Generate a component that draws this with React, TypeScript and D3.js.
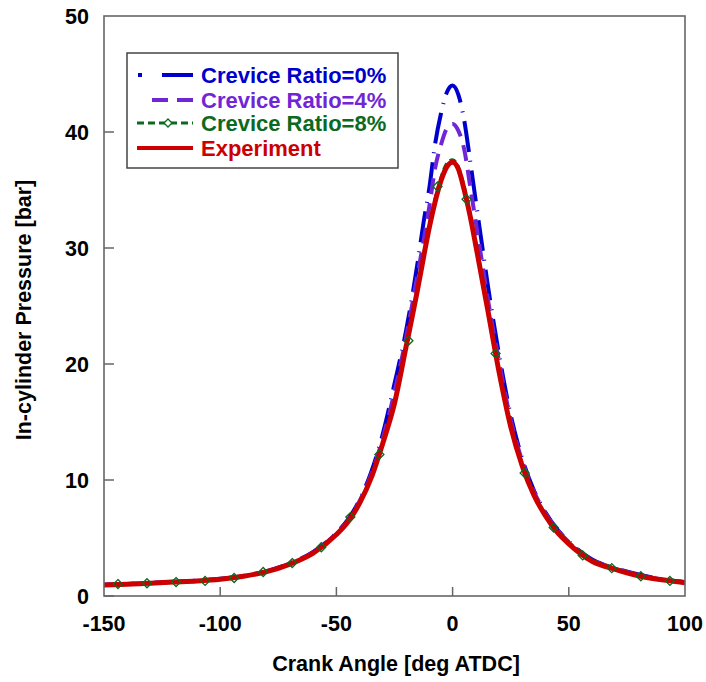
import React from "react";
import * as d3 from "d3";

const angles = [-150,-140,-130,-120,-110,-100,-90,-80,-70,-60,-50,-45,-40,-35,-30,-25,-20,-15,-12.5,-10,-7.5,-5,-2.5,0,2.5,5,7.5,10,12.5,15,20,25,30,35,40,45,50,60,70,80,90,100];

const crevice0 = [0.97,1.04,1.12,1.22,1.33,1.48,1.74,2.15,2.82,3.8,5.45,6.6,8.3,10.7,14.0,18.3,22.9,28.8,32.2,35.2,39.0,41.6,43.4,44.0,43.2,41.0,37.6,34.0,30.5,27.0,20.8,15.6,11.8,9.1,7.2,5.75,4.7,3.15,2.4,1.85,1.45,1.2];
const crevice4 = [0.96,1.03,1.11,1.21,1.32,1.47,1.72,2.12,2.79,3.75,5.4,6.5,8.2,10.5,13.6,17.6,22.3,27.8,30.6,33.6,36.9,38.9,40.3,40.7,40.1,38.5,35.4,32.2,29.0,25.8,20.2,15.2,11.6,9.0,7.1,5.7,4.65,3.12,2.38,1.82,1.43,1.18];
const crevice8 = [0.97,1.03,1.11,1.21,1.32,1.47,1.72,2.12,2.78,3.75,5.35,6.45,8.1,10.3,13.3,16.8,21.6,26.8,29.5,32.1,34.3,36.1,37.3,37.6,37.0,35.3,33.1,30.5,27.8,25.1,19.5,14.8,11.4,8.9,7.05,5.65,4.65,3.15,2.4,1.82,1.45,1.18];
const experiment = [0.95,1.02,1.1,1.2,1.3,1.45,1.7,2.1,2.75,3.7,5.3,6.4,8.0,10.2,13.2,16.6,21.5,26.5,29.2,31.8,34.0,35.8,37.0,37.4,36.8,35.0,32.8,30.2,27.5,24.8,19.3,14.6,11.2,8.7,6.9,5.5,4.5,3.0,2.3,1.75,1.4,1.15];

const markerAngles = [-144,-131.5,-119,-106.5,-94,-81.5,-69,-56.5,-44,-31.5,-19,-6.5,6,18.5,31,43.5,56,68.5,81,93.5];
const markerValues = [1.03,1.1,1.2,1.3,1.55,2.07,2.84,4.2,6.8,12.2,22.0,35.3,34.2,20.9,10.6,5.9,3.5,2.4,1.7,1.3];

const xTicks = [-150,-100,-50,0,50,100];
const yTicks = [0,10,20,30,40,50];

const legendLabels = ["Crevice Ratio=0%","Crevice Ratio=4%","Crevice Ratio=8%","Experiment"];

const W = 706, H = 682;
const M = { left: 104, right: 685, top: 16, bottom: 596 };
const FONT = "'Liberation Sans', Arial, Helvetica, sans-serif";

const BLUE = "#0000cc";
const PURPLE = "#7026d6";
const GREEN = "#0b6a1e";
const RED = "#cc0000";
const FRAME = "#666666";

export default function App() {
  const x = d3.scaleLinear().domain([-150, 100]).range([M.left, M.right]);
  const y = d3.scaleLinear().domain([0, 50]).range([M.bottom, M.top]);
  const line = (vals: number[]) =>
    d3.line<number>().x((_, i) => x(angles[i])).y((v) => y(v)).curve(d3.curveMonotoneX)(vals) || "";

  const series = [
    { vals: crevice0, color: BLUE, width: 4, dash: "31 9 1 9" },
    { vals: crevice4, color: PURPLE, width: 4, dash: "16 9" },
    { vals: crevice8, color: GREEN, width: 3, dash: "7 4" },
    { vals: experiment, color: RED, width: 5, dash: "" },
  ];

  const diamond = (cx: number, cy: number, r: number) =>
    `M${cx},${cy - r}L${cx + r},${cy}L${cx},${cy + r}L${cx - r},${cy}Z`;

  const legX = 127, legY = 53, legW = 271, legH = 115;
  const rowY = [75, 100, 123, 148];
  const colors = [BLUE, PURPLE, GREEN, RED];

  return (
    <svg width={W} height={H} style={{ position: "absolute", left: 0, top: 0, background: "#fff" }} fontFamily={FONT}>
      <defs>
        <clipPath id="plotclip">
          <rect x={M.left} y={M.top} width={M.right - M.left} height={M.bottom - M.top} />
        </clipPath>
      </defs>
      <rect x={0} y={0} width={W} height={H} fill="#fff" />

      <g clipPath="url(#plotclip)">
        {series.map((s, i) => (
          <path key={i} d={line(s.vals)} fill="none" stroke={s.color} strokeWidth={s.width}
            strokeDasharray={s.dash || undefined} strokeLinejoin="round" />
        ))}
        {markerAngles.map((a, i) => (
          <path key={"m" + i} d={diamond(x(a), y(markerValues[i]), 4.5)} fill="none" stroke={GREEN} strokeWidth={1.3} />
        ))}
      </g>

      {/* frame */}
      <rect x={M.left} y={M.top} width={M.right - M.left} height={M.bottom - M.top} fill="none" stroke={FRAME} strokeWidth={1.6} />
      {xTicks.slice(1, -1).map((t) => (
        <line key={"xt" + t} x1={x(t)} x2={x(t)} y1={M.bottom} y2={M.bottom - 9} stroke={FRAME} strokeWidth={1.5} />
      ))}
      {yTicks.slice(0, -1).map((t) => (
        <line key={"yt" + t} x1={M.left} x2={M.left + 10} y1={y(t)} y2={y(t)} stroke={FRAME} strokeWidth={1.5} />
      ))}

      {xTicks.map((t) => (
        <text key={"xl" + t} x={x(t)} y={631} textAnchor="middle" fontSize={21.5} fontWeight="bold" fill="#000">{t}</text>
      ))}
      {yTicks.map((t) => (
        <text key={"yl" + t} x={89} y={y(t) + 7.5} textAnchor="end" fontSize={21.5} fontWeight="bold" fill="#000">{t}</text>
      ))}

      <text x={396} y={671} textAnchor="middle" fontSize={21.5} fontWeight="bold" fill="#000">Crank Angle [deg ATDC]</text>
      <text transform={`translate(31,310) rotate(-90)`} textAnchor="middle" fontSize={21.5} fontWeight="bold" fill="#000">In-cylinder Pressure [bar]</text>

      {/* legend */}
      <rect x={legX} y={legY} width={legW} height={legH} fill="#fff" stroke="#444" strokeWidth={1.5} />
      <line x1={138} x2={193} y1={rowY[0]} y2={rowY[0]} stroke={BLUE} strokeWidth={4} strokeDasharray="4 20 31" />
      <line x1={152} x2={193} y1={rowY[1]} y2={rowY[1]} stroke={PURPLE} strokeWidth={4} strokeDasharray="16 9" />
      <line x1={137} x2={193} y1={rowY[2]} y2={rowY[2]} stroke={GREEN} strokeWidth={3} strokeDasharray="7 4" />
      <path d={diamond(168, rowY[2], 4)} fill="#fff" stroke={GREEN} strokeWidth={1.3} />
      <line x1={137} x2={193} y1={rowY[3]} y2={rowY[3]} stroke={RED} strokeWidth={4} />
      {legendLabels.map((l, i) => (
        <text key={l} x={201} y={rowY[i] + 8} fontSize={22} fontWeight="bold" fill={colors[i]}>{l}</text>
      ))}
    </svg>
  );
}
